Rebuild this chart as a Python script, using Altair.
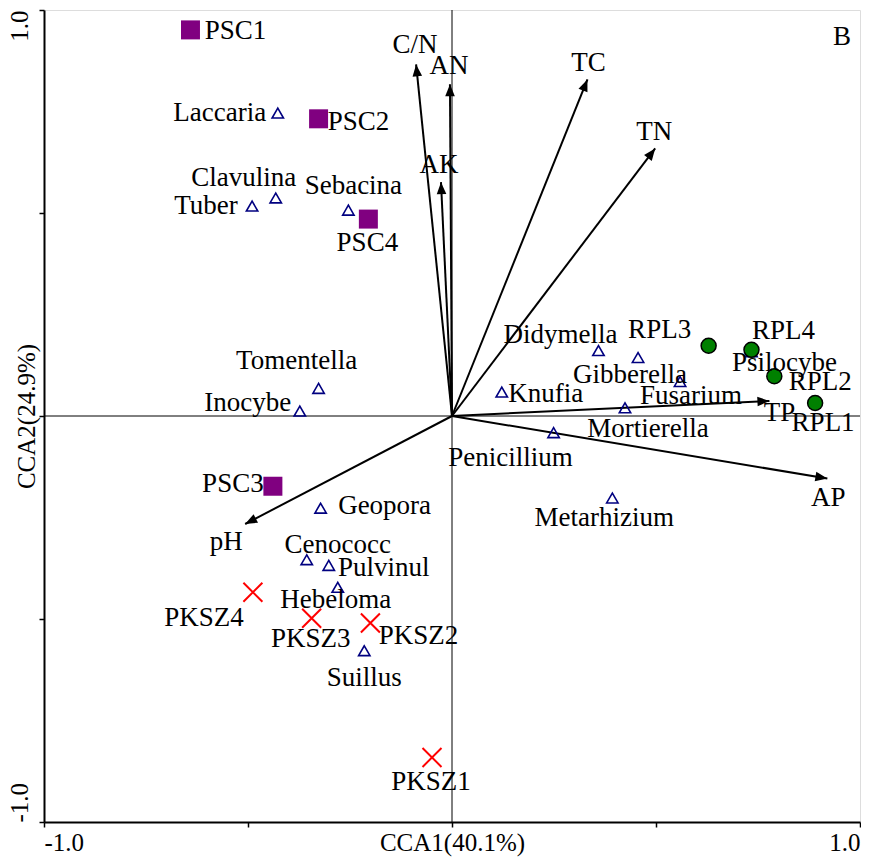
import math
import altair as alt
import pandas as pd

# ---------------- data ----------------
sample_names = ["PSC1", "PSC2", "PSC3", "PSC4",
                "RPL1", "RPL2", "RPL3", "RPL4",
                "PKSZ1", "PKSZ2", "PKSZ3", "PKSZ4"]
sample_group = ["PSC"] * 4 + ["RPL"] * 4 + ["PKSZ"] * 4
sample_x = [-0.641, -0.327, -0.439, -0.205,
            0.890, 0.790, 0.629, 0.734,
            -0.049, -0.200, -0.344, -0.488]
sample_y = [0.951, 0.732, -0.173, 0.485,
            0.032, 0.098, 0.173, 0.163,
            -0.841, -0.510, -0.498, -0.434]

species_names = ["Laccaria", "Clavulina", "Tuber", "Sebacina", "Tomentella",
                 "Inocybe", "Geopora", "Cenococc", "Pulvinul", "Hebeloma",
                 "Suillus", "Didymella", "Gibberella", "Fusarium", "Knufia",
                 "Mortierella", "Penicillium", "Metarhizium", "Psilocybe"]
species_x = [-0.427, -0.432, -0.490, -0.254, -0.327,
             -0.373, -0.322, -0.356, -0.302, -0.280,
             -0.215, 0.359, 0.456, 0.559, 0.122,
             0.424, 0.249, 0.393, 0.734]
species_y = [0.746, 0.537, 0.517, 0.507, 0.068,
             0.012, -0.227, -0.354, -0.368, -0.422,
             -0.578, 0.161, 0.144, 0.085, 0.059,
             0.020, -0.041, -0.202, 0.158]

env_names = ["C/N", "AN", "AK", "TC", "TN", "TP", "AP", "pH"]
env_x = [-0.088, -0.005, -0.027, 0.332, 0.498, 0.778, 0.920, -0.507]
env_y = [0.866, 0.817, 0.576, 0.829, 0.659, 0.037, -0.154, -0.266]

axis_values = [-1.0, -0.5, 0.0, 0.5, 1.0]

# ---------------- layout (label offsets in pixels) ----------------
sample_dx = [45, 40, -40, -1, 8, 46, -49, 32, -1, 48, -1, -49]
sample_dy = [1, 3, -2, 24, 20, 6, -16, -19, 25, 13, 21, 26]
species_dx = [-58, -32, -46, 5, -22, -52, 64, 31, 55, -2, 0, -38, -8, 11, 44, 23, -43, -8, 33]
species_dy = [0, -20, 0, -24, -27, -8, -2, -15, 3, 13, 27, -16, 17, 15, 2, 21, 25, 20, 11]
env_dx = [-1, -1, -2, 1, -1, 10, 1, -19]
env_dy = [-19, -18, -17, -16, -16, 12, 19, 18]

W = 816
H = 812
PXX = W / 2.0  # pixels per data unit, x
PXY = H / 2.0  # pixels per data unit, y
FONT = "Liberation Serif"
FS = 27      # point labels
FSA = 25     # axis labels and titles


def table(names, xs, ys, dxs, dys):
    return pd.DataFrame({
        "name": names,
        "x": xs,
        "y": ys,
        "lx": [x + dx / PXX for x, dx in zip(xs, dxs)],
        "ly": [y - dy / PXY for y, dy in zip(ys, dys)],
    })


samples = table(sample_names, sample_x, sample_y, sample_dx, sample_dy)
samples["group"] = sample_group
species = table(species_names, species_x, species_y, species_dx, species_dy)
env = table(env_names, env_x, env_y, env_dx, env_dy)
env["x0"] = 0.0
env["y0"] = 0.0
env["ang"] = [(math.degrees(math.atan2(x * PXX, y * PXY)) + 360) % 360
              for x, y in zip(env_x, env_y)]

xs = alt.Scale(domain=[-1, 1], nice=False, zero=False)
ys = alt.Scale(domain=[-1, 1], nice=False, zero=False)

x_axis = alt.Axis(
    values=axis_values,
    labelExpr="datum.value == -1 ? '-1.0' : (datum.value == 1 ? '1.0' : '')",
    labelFlush=True, labelOverlap=False, grid=False,
    domainColor="black", domainWidth=2, tickColor="black", tickSize=5, tickWidth=1.5,
    labelFont=FONT, labelFontSize=FSA, labelColor="black", labelPadding=3,
    labelBaseline="top",
    title="CCA1(40.1%)", titleFont=FONT, titleFontSize=FSA, titleFontWeight="normal",
    titleColor="black", titleY=8, titleBaseline="top",
)
y_axis = alt.Axis(
    values=axis_values,
    labelExpr="datum.value == -1 ? '-1.0' : (datum.value == 1 ? '1.0' : '')",
    labelFlush=False, labelOverlap=False, grid=False, labelAngle=270,
    labelAlign={"condition": {"test": "datum.value > 0", "value": "right"}, "value": "left"},
    labelBaseline="middle",
    domainColor="black", domainWidth=2, tickColor="black", tickSize=5, tickWidth=1.5,
    labelFont=FONT, labelFontSize=FSA, labelColor="black", labelPadding=20,
    title="CCA2(24.9%)", titleFont=FONT, titleFontSize=FSA, titleFontWeight="normal",
    titleColor="black", titleX=-18, titleY=H / 2, titleAngle=270,
    titleBaseline="middle", titleAlign="center",
)

zero_df = pd.DataFrame({"v": [0.0]})
vline = alt.Chart(zero_df).mark_rule(color="black", strokeWidth=1).encode(
    x=alt.X("v:Q", scale=xs, axis=x_axis))
hline = alt.Chart(zero_df).mark_rule(color="black", strokeWidth=1).encode(
    y=alt.Y("v:Q", scale=ys, axis=y_axis))

arrows = alt.Chart(env).mark_rule(color="black", strokeWidth=2).encode(
    x=alt.X("x0:Q", scale=xs), y=alt.Y("y0:Q", scale=ys), x2="x:Q", y2="y:Q")
head_shape = "M0,0L-0.4,1L0.4,1Z"
heads = alt.Chart(env).mark_point(shape=head_shape, filled=True, color="black",
                                  size=576, opacity=1, strokeWidth=0).encode(
    x=alt.X("x:Q", scale=xs), y=alt.Y("y:Q", scale=ys),
    angle=alt.Angle("ang:Q", scale=None))

tri = alt.Chart(species).mark_point(shape="triangle-up", filled=False, color="#000080",
                                    size=130, strokeWidth=1.6, opacity=1).encode(
    x=alt.X("x:Q", scale=xs), y=alt.Y("y:Q", scale=ys))

psc = alt.Chart(samples).transform_filter("datum.group == 'PSC'").mark_point(
    shape="square", filled=True, color="#800080", size=361, opacity=1, strokeWidth=0).encode(
    x=alt.X("x:Q", scale=xs), y=alt.Y("y:Q", scale=ys))
rpl = alt.Chart(samples).transform_filter("datum.group == 'RPL'").mark_point(
    shape="circle", filled=True, fill="#008000", stroke="black", strokeWidth=1.5,
    size=225, opacity=1).encode(
    x=alt.X("x:Q", scale=xs), y=alt.Y("y:Q", scale=ys))
pksz = alt.Chart(samples).transform_filter("datum.group == 'PKSZ'").mark_point(
    shape="M-1,-1L1,1M-1,1L1,-1", filled=False, color="#ff0000", strokeWidth=2,
    size=361, opacity=1).encode(
    x=alt.X("x:Q", scale=xs), y=alt.Y("y:Q", scale=ys))


def labels(df):
    return alt.Chart(df).mark_text(font=FONT, fontSize=FS, color="black",
                                   align="center", baseline="middle").encode(
        x=alt.X("lx:Q", scale=xs), y=alt.Y("ly:Q", scale=ys), text="name:N")


panel = alt.Chart(pd.DataFrame({"t": ["B"]})).mark_text(
    font=FONT, fontSize=FS, color="black", align="center", baseline="middle").encode(
    x=alt.value(W - 18), y=alt.value(27), text="t:N")

chart = alt.layer(
    vline, hline, arrows, heads, tri, psc, rpl, pksz,
    labels(species), labels(samples), labels(env), panel,
).properties(
    width=W, height=H,
    autosize=alt.AutoSizeParams(type="none"),
    padding={"left": 36, "top": 2, "right": 1, "bottom": 36},
).configure_view(stroke="black", strokeWidth=2).configure(background="white")

chart.save("out.html", embed_options={"renderer": "svg", "actions": False})
